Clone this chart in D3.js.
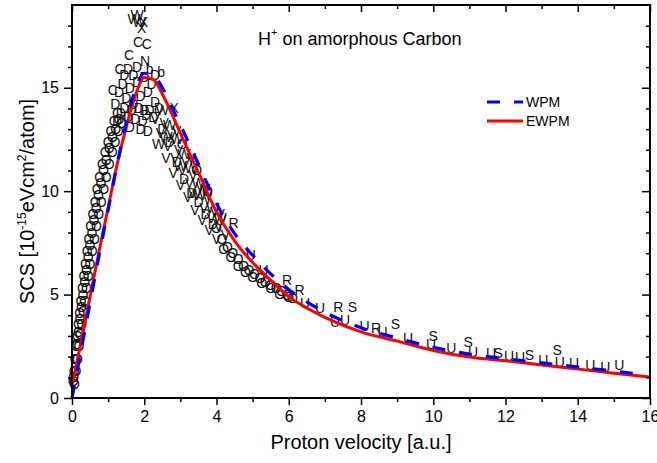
<!DOCTYPE html>
<html>
<head>
<meta charset="utf-8">
<script src="https://cdn.jsdelivr.net/npm/d3@7"></script>
<style>
body { margin: 0; background: #fff; }
svg { display: block; font-family: Arial, "Liberation Sans", sans-serif; }
</style>
</head>
<body>
<div id="chart"></div>
<script>
// model curves [velocity, SCS]
var wpm = [[0,0],[0.25,2.3],[0.5,4.6],[0.75,6.9],[1,9.1],[1.25,11.3],[1.5,13.3],[1.75,14.9],[2,15.7],[2.25,15.6],[2.5,15.0],[2.75,14.1],[3,13.2],[3.5,11.3],[4,9.4],[4.5,7.95],[5,6.9],[5.5,6.0],[6,5.25],[6.5,4.65],[7,4.15],[8,3.4],[9,2.9],[10,2.45],[11,2.12],[12,1.9],[13,1.7],[14,1.5],[15,1.3],[15.6,1.18]];
var ewpm = [[0,0.6],[0.25,2.7],[0.5,4.9],[0.75,7.1],[1,9.2],[1.25,11.3],[1.5,13.1],[1.75,14.6],[2,15.5],[2.25,15.4],[2.5,14.7],[2.75,13.8],[3,12.8],[3.5,10.9],[4,9.0],[4.5,7.6],[5,6.55],[5.5,5.7],[6,4.9],[6.5,4.35],[7,3.9],[8,3.2],[9,2.75],[10,2.3],[11,1.98],[12,1.8],[13,1.6],[14,1.4],[15,1.2],[16,1.02]];

// experimental points, one array per plot letter
var ptsO = [[0.03,0.8],[0.06,1.3],[0.09,1.9],[0.12,2.5],[0.15,3.0],[0.18,3.6],[0.21,4.1],[0.25,4.7],[0.29,5.3],[0.33,5.9],[0.37,6.5],[0.42,7.1],[0.47,7.7],[0.52,8.3],[0.58,8.9],[0.64,9.5],[0.7,10.1],[0.77,10.7],[0.84,11.3],[0.92,11.9],[1.0,12.4],[1.08,12.9],[1.17,13.4],[1.26,13.8],
  [0.05,1.0],[0.1,1.9],[0.14,2.6],[0.18,3.2],[0.22,3.8],[0.26,4.4],[0.3,5.0],[0.35,5.6],[0.4,6.2],[0.45,6.8],[0.5,7.4],[0.55,8.0],[0.61,8.6],[0.67,9.2],[0.73,9.8],[0.8,10.4],[0.87,11.0],[0.95,11.5],[1.03,12.1],[1.12,12.6],[1.21,13.0],[1.3,13.5],
  [0.07,0.7],[0.11,1.3],[0.15,1.9],[0.19,2.5],[0.23,3.1],[0.27,3.6],[0.31,4.2],[0.35,4.7],[0.4,5.3],[0.45,5.9],[0.5,6.5],[0.56,7.1],[0.62,7.7],[0.68,8.3],[0.74,8.9],[0.81,9.5],[0.88,10.1],[0.95,10.7],[1.03,11.3],[1.11,11.9],[1.19,12.4],[1.28,12.9],[1.37,13.3],
  [3.05,12.3],[3.45,11.0],[3.75,10.0],[4.0,8.2],[4.15,7.7],[4.3,7.3],[4.45,7.0],[4.6,6.7],[4.75,6.4],[4.9,6.2],[5.05,6.0],[5.2,5.8],[5.35,5.6],[5.5,5.45],[5.65,5.3],[5.8,5.15],[5.95,5.0],[6.1,4.85],
  [4.2,7.2],[4.4,6.8],[4.6,6.4],[4.8,6.1],[5.0,5.85],[5.25,5.55],[5.5,5.3],[5.75,5.05],[6.0,4.9]];
var ptsV = [[2.3,13.5],[2.45,12.8],[2.55,13.3],[2.65,12.2],[2.75,12.7],[2.85,11.6],[2.95,12.0],[3.05,11.0],[3.15,11.4],[3.25,10.4],[3.35,10.8],[3.45,9.8],[3.55,10.2],[3.65,9.2],[3.75,9.6],[3.85,8.7],[3.95,9.0],[4.05,8.3],[4.15,8.6],[4.25,7.9],[2.6,11.6],[2.8,10.9],[3.0,10.3],[3.2,9.7],[3.4,9.1],[3.6,8.6],[3.8,8.1],[4.0,7.7],
  [2.9,12.9],[3.3,11.6],[3.7,10.1],[4.1,8.9]];
var ptsW = [[2.5,13.9],[2.7,13.2],[2.9,12.5],[3.1,11.8],[3.3,11.1],[3.5,10.4],[3.7,9.8],[3.9,9.2],[4.1,8.7],[2.4,12.3],[2.6,12.6],[3.0,11.2],[3.4,9.9],[1.72,18.3],[1.8,18.5],[1.86,18.2]];
var ptsD = [[1.3,14.8],[1.4,15.2],[1.5,14.5],[1.6,15.0],[1.7,14.2],[1.8,15.3],[1.9,14.6],[2.0,13.9],[2.1,14.8],[2.2,15.2],[2.3,14.3],[1.35,13.8],[1.45,14.0],[1.55,13.6],[1.65,13.9],[1.75,13.5],[1.85,14.0],[1.95,13.4],[2.05,13.7],[2.15,13.9],[2.25,13.6],[2.4,14.0],[1.2,14.2],[1.25,13.4],[1.6,13.1],[2.1,12.9],[1.55,15.9],[1.8,16.0],[2.3,15.6],[1.45,15.6],[1.7,15.6],[2.0,15.5],[1.9,13.0],
  [2.5,13.0],[2.7,12.4],[2.9,11.4],[3.1,10.6],[3.3,9.9],[3.5,9.5],[3.7,8.9],[3.9,8.4]];
var ptsC = [[1.83,17.2],[2.07,17.1],[1.58,16.6],[1.32,15.9],[1.13,14.9]];
var ptsN = [[2.02,16.3]];
var ptsX = [[1.98,18.2],[1.93,17.9],[2.83,14.0]];
var ptsB = [[2.47,15.75],[2.15,15.9]];
var ptsR = [[4.47,8.45],[5.95,5.7],[6.3,5.2],[7.37,4.4],[8.42,3.38]];
var ptsS = [[7.76,4.4],[8.95,3.6],[10.0,3.0],[10.97,2.7],[11.8,2.17],[12.66,2.08],[13.43,2.3]];
var ptsU = [[4.95,6.9],[5.3,6.2],[6.45,4.6],[6.87,4.35],[7.28,3.67],[7.56,3.77],[8.1,3.5],[8.6,3.2],[9.3,2.9],[9.94,2.6],[10.5,2.4],[11.1,2.2],[11.6,2.17],[12.1,2.03],[12.4,1.98],[13.05,1.84],[13.5,1.74],[13.9,1.7],[14.35,1.6],[14.76,1.5],[15.15,1.6]];

var xMajor = [0,2,4,6,8,10,12,14,16];
var xMinor = [1,3,5,7,9,11,13,15];
var yMajor = [0,5,10,15];
var yMinor = [1,2,3,4,6,7,8,9,11,12,13,14,16,17,18];

var width = 657, height = 463;
var pLeft = 72, pRight = 650, pTop = 5, pBottom = 398;

var x = d3.scaleLinear().domain([0, 16]).range([pLeft, pRight]);
var y = d3.scaleLinear().domain([0, 19]).range([pBottom, pTop]);

var svg = d3.select("#chart").append("svg")
  .attr("width", width)
  .attr("height", height);

// experimental data letters
var sets = [
  { s: "O", d: ptsO }, { s: "V", d: ptsV }, { s: "W", d: ptsW }, { s: "D", d: ptsD },
  { s: "C", d: ptsC }, { s: "N", d: ptsN }, { s: "X", d: ptsX }, { s: "b", d: ptsB },
  { s: "R", d: ptsR }, { s: "S", d: ptsS }, { s: "U", d: ptsU }
];
sets.forEach(function(set) {
  svg.append("g").selectAll("text")
    .data(set.d)
    .enter()
    .append("text")
    .attr("x", d => x(d[0]))
    .attr("y", d => y(d[1]))
    .attr("text-anchor", "middle")
    .attr("dominant-baseline", "central")
    .attr("font-size", 14)
    .attr("fill", "#111")
    .text(set.s);
});

// curves
var line = d3.line()
  .x(d => x(d[0]))
  .y(d => y(d[1]))
  .curve(d3.curveMonotoneX);

svg.append("path")
  .attr("d", line(ewpm))
  .attr("fill", "none")
  .attr("stroke", "#ff0000")
  .attr("stroke-width", 3);

svg.append("path")
  .attr("d", line(wpm))
  .attr("fill", "none")
  .attr("stroke", "#0000ff")
  .attr("stroke-width", 3.2)
  .attr("stroke-dasharray", "13,14");

// axes
function styleAxis(g) {
  g.select(".domain").remove();
  g.selectAll(".tick line").attr("stroke", "#000").attr("stroke-width", 1.5);
  g.selectAll(".tick text").attr("font-size", 16).attr("fill", "#000")
    .attr("font-family", "Arial, 'Liberation Sans', sans-serif");
}

svg.append("g").attr("transform", "translate(0," + pBottom + ")")
  .call(d3.axisBottom(x).tickValues(xMajor).tickSize(7).tickPadding(6).tickFormat(d3.format("d")))
  .call(styleAxis);
svg.append("g").attr("transform", "translate(0," + pBottom + ")")
  .call(d3.axisBottom(x).tickValues(xMinor).tickSize(4).tickFormat(""))
  .call(styleAxis);
svg.append("g").attr("transform", "translate(0," + pTop + ")")
  .call(d3.axisTop(x).tickValues(xMajor).tickSize(-7).tickFormat(""))
  .call(styleAxis);
svg.append("g").attr("transform", "translate(0," + pTop + ")")
  .call(d3.axisTop(x).tickValues(xMinor).tickSize(-4).tickFormat(""))
  .call(styleAxis);

svg.append("g").attr("transform", "translate(" + pLeft + ",0)")
  .call(d3.axisLeft(y).tickValues(yMajor).tickSize(8).tickPadding(5).tickFormat(d3.format("d")))
  .call(styleAxis);
svg.append("g").attr("transform", "translate(" + pLeft + ",0)")
  .call(d3.axisLeft(y).tickValues(yMinor).tickSize(4).tickFormat(""))
  .call(styleAxis);
svg.append("g").attr("transform", "translate(" + pRight + ",0)")
  .call(d3.axisRight(y).tickValues(yMajor).tickSize(-8).tickFormat(""))
  .call(styleAxis);
svg.append("g").attr("transform", "translate(" + pRight + ",0)")
  .call(d3.axisRight(y).tickValues(yMinor).tickSize(-4).tickFormat(""))
  .call(styleAxis);

svg.append("rect")
  .attr("x", pLeft).attr("y", pTop)
  .attr("width", pRight - pLeft).attr("height", pBottom - pTop)
  .attr("fill", "none").attr("stroke", "#000").attr("stroke-width", 2);

// axis titles
svg.append("text")
  .attr("x", (pLeft + pRight) / 2)
  .attr("y", 449)
  .attr("text-anchor", "middle")
  .attr("font-size", 20)
  .text("Proton velocity [a.u.]");

var yt = svg.append("text")
  .attr("transform", "translate(34," + ((pTop + pBottom) / 2) + ") rotate(-90)")
  .attr("text-anchor", "middle")
  .attr("font-size", 20);
yt.append("tspan").text("SCS [10");
yt.append("tspan").attr("font-size", 12).attr("dy", -8).text("-15");
yt.append("tspan").attr("dy", 8).text("eVcm");
yt.append("tspan").attr("font-size", 12).attr("dy", -8).text("2");
yt.append("tspan").attr("dy", 8).text("/atom]");

// plot label
var tt = svg.append("text")
  .attr("x", 258)
  .attr("y", 45)
  .attr("font-size", 18);
tt.append("tspan").text("H");
tt.append("tspan").attr("font-size", 11).attr("dy", -9).text("+");
tt.append("tspan").attr("dy", 9).text(" on amorphous Carbon");

// legend
var legend = [
  { name: "WPM", color: "#0000ff", dash: "13,14" },
  { name: "EWPM", color: "#ff0000", dash: null }
];
legend.forEach(function(l, i) {
  var ly = 102 + i * 19;
  svg.append("line")
    .attr("x1", 487).attr("x2", 523)
    .attr("y1", ly).attr("y2", ly)
    .attr("stroke", l.color)
    .attr("stroke-width", 3)
    .attr("stroke-dasharray", l.dash);
  svg.append("text")
    .attr("x", 526).attr("y", ly + 5)
    .attr("font-size", 14)
    .text(l.name);
});
</script>
</body>
</html>
